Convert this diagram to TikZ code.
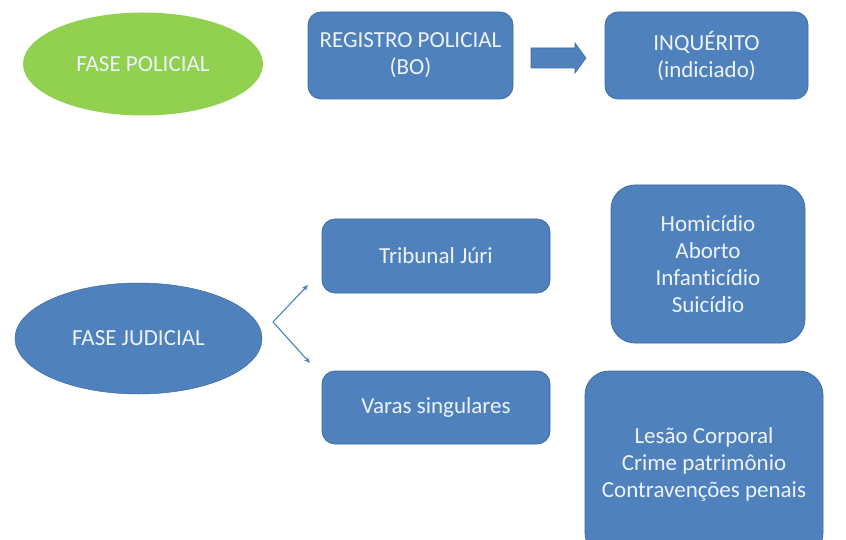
\documentclass[tikz,border=0pt]{standalone}
\usepackage{fontspec}
\setmainfont{Carlito}[Ligatures=NoCommon]
\usetikzlibrary{shapes.geometric,arrows.meta}
\definecolor{boxblue}{HTML}{4F81BD}
\definecolor{boxedge}{HTML}{3D6CA3}
\definecolor{phasegreen}{HTML}{92D050}
\definecolor{labelwhite}{HTML}{EEF3FA}
\tikzset{
  txt/.style={text=labelwhite, font=\fontsize{23}{27}\selectfont, align=center, inner sep=0pt},
  phase/.style={txt, ellipse, minimum width=#1},
  box/.style={txt, draw=boxedge, line width=0.8pt, fill=boxblue, rounded corners=13pt},
  bigbox/.style={box, rounded corners=24pt},
  fork/.style={draw=boxblue, line width=1.1pt, -{Stealth[length=6pt,width=5pt]}},
  blockarrow/.style={fill=boxblue, draw=boxedge, line width=0.6pt, line join=miter}
}
\begin{document}
\begin{tikzpicture}[x=1pt, y=-1pt]
  \clip (0,0) rectangle (846,540);
  \fill[white] (0,0) rectangle (846,540);

  % police phase
  \node[phase=240pt, minimum height=103pt, fill=phasegreen] (policial) at (143,64) {FASE POLICIAL};
  \node[box, minimum width=205pt, minimum height=87pt] (registro) at (410.5,55.5) {REGISTRO POLICIAL\\(BO)};
  \node[box, minimum width=203pt, minimum height=87pt] (inquerito) at (706.5,55.5) {INQUÉRITO\\(indiciado)};

  % block arrow between the two police boxes
  \coordinate (seta) at (558.5,58);
  \draw[blockarrow] ([shift={(-27.5,-10)}]seta) -- ([shift={(16.5,-10)}]seta)
    -- ([shift={(16.5,-15)}]seta) -- ([shift={(27.5,0)}]seta)
    -- ([shift={(16.5,15)}]seta) -- ([shift={(16.5,10)}]seta)
    -- ([shift={(-27.5,10)}]seta) -- cycle;

  % judicial phase
  \node[phase=247pt, minimum height=111pt, fill=boxblue, draw=boxedge, line width=0.5pt] (judicial) at (138.5,338.5) {FASE JUDICIAL};
  \node[box, minimum width=228pt, minimum height=74pt] (juri) at (436,256) {Tribunal Júri};
  \node[box, minimum width=228pt, minimum height=73pt] (varas) at (436,407.5) {Varas singulares};
  \node[bigbox, minimum width=194pt, minimum height=158pt] (crimesjuri) at (708,264) {Homicídio\\Aborto\\Infanticídio\\Suicídio};
  \node[bigbox, minimum width=238pt, minimum height=186pt] (crimesvaras) at (704,464) {Lesão Corporal\\Crime patrimônio\\Contravenções penais};

  % branching arrows
  \coordinate (forkstart) at (273,322);
  \coordinate (forkup) at (308,285);
  \coordinate (forkdown) at (310,363);
  \draw[fork] (forkstart) -- (forkup);
  \draw[fork] (forkstart) -- (forkdown);
\end{tikzpicture}
\end{document}
